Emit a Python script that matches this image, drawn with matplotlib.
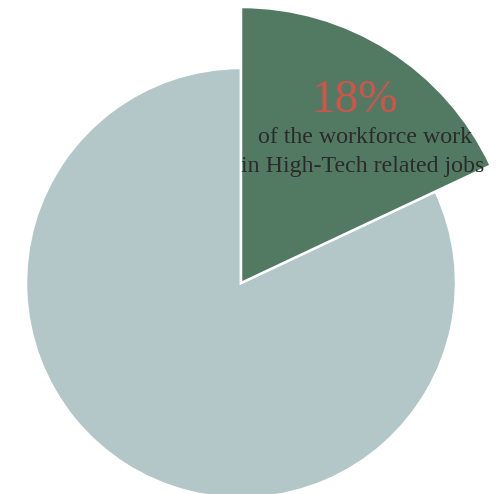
import matplotlib
matplotlib.use("Agg")
import matplotlib.pyplot as plt

labels = ["High-Tech related jobs", "Other jobs"]
shares = [18, 82]
colors = ["#527a63", "#b3c6c8"]
headline = "18%"
caption_lines = ["of the workforce work", "in High-Tech related jobs"]

W, H = 502, 494
fig = plt.figure(figsize=(W / 100, H / 100), dpi=100)
ax = fig.add_axes([0, 0, 1, 1])

cx, cy = 241, H - 283
wedges, _ = ax.pie(shares, colors=colors, startangle=90, counterclock=False,
                   radius=215, center=(cx, cy), frame=True,
                   wedgeprops=dict(edgecolor="white", linewidth=1.8))
wedges[0].set_radius(276)
wedges[0].set_zorder(3)
ax.set_xlim(0, W)
ax.set_ylim(0, H)
ax.set_aspect("equal")
ax.axis("off")

ax.text(355, H - 101, headline, color="#d0544a", fontsize=34,
        family="Liberation Serif", ha="center", va="center", zorder=5)
ax.text(365, H - 143, caption_lines[0], color="#2a2a2a", fontsize=17.2,
        family="Liberation Serif", ha="center", va="baseline", zorder=5)
ax.text(363, H - 172, caption_lines[1], color="#2a2a2a", fontsize=17.2,
        family="Liberation Serif", ha="center", va="baseline", zorder=5)

fig.savefig("out.png", dpi=100, facecolor="white")
